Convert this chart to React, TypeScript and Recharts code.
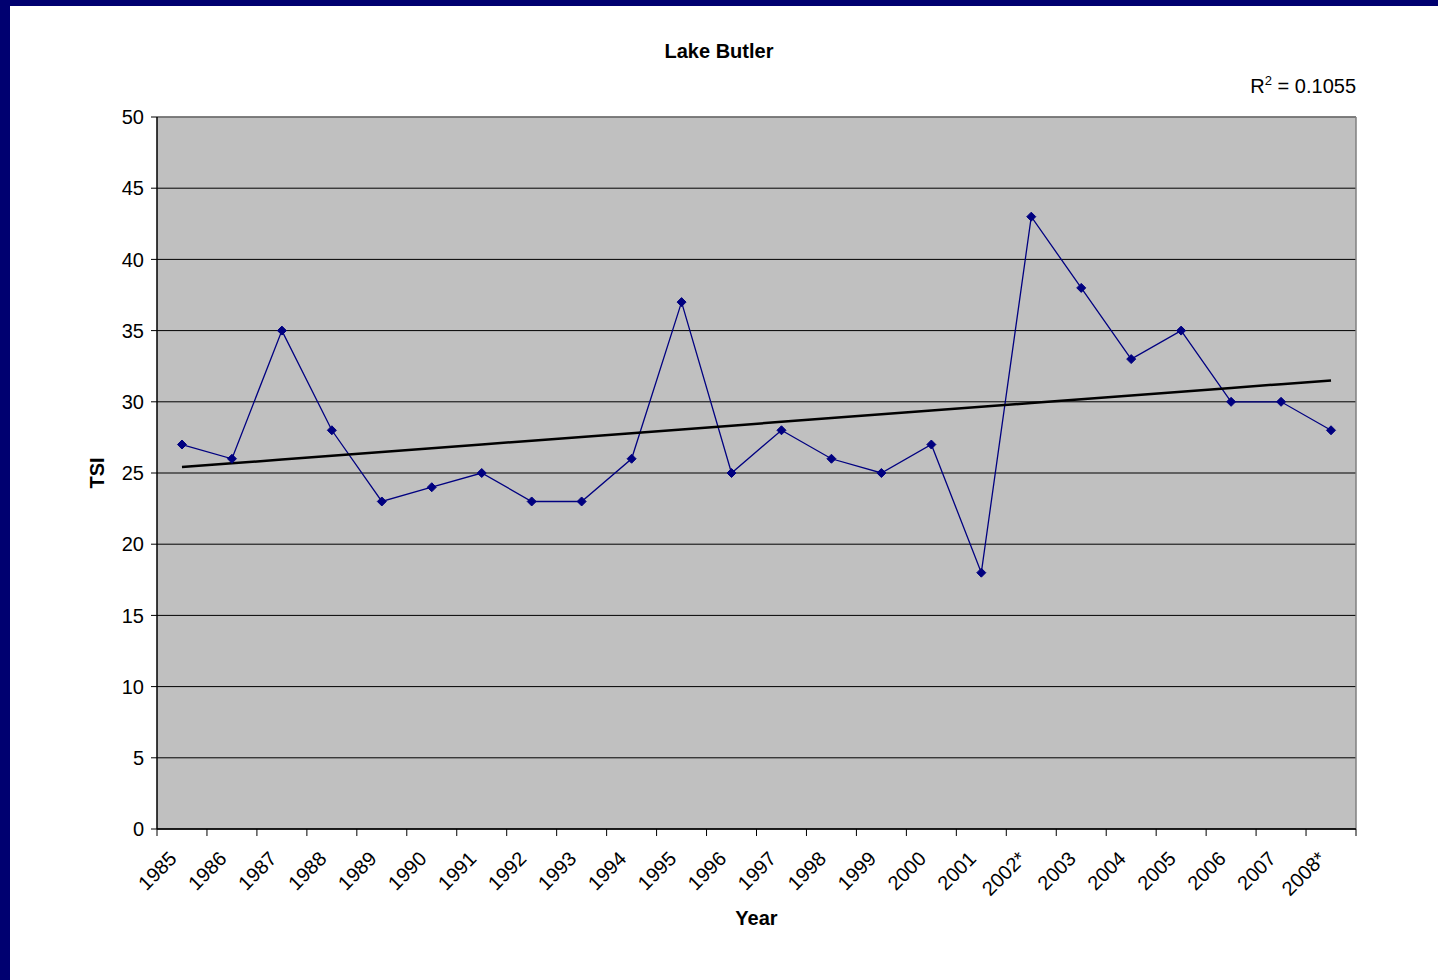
import React from "react";
import {
  ComposedChart,
  Line,
  XAxis,
  YAxis,
  CartesianGrid,
  ReferenceLine,
} from "recharts";

const years = [
  "1985", "1986", "1987", "1988", "1989", "1990", "1991", "1992",
  "1993", "1994", "1995", "1996", "1997", "1998", "1999", "2000",
  "2001", "2002*", "2003", "2004", "2005", "2006", "2007", "2008*",
];
const tsi = [
  27, 26, 35, 28, 23, 24, 25, 23, 23, 26, 37, 25, 28, 26, 25, 27, 18, 43, 38,
  33, 35, 30, 30, 28,
];
const yTicks = [0, 5, 10, 15, 20, 25, 30, 35, 40, 45, 50];
const rSquared = "0.1055";

// least squares trend over the category index (same as the Excel linear trendline)
const n = tsi.length;
const meanX = (n - 1) / 2;
const meanY = tsi.reduce((a, b) => a + b, 0) / n;
let sxy = 0;
let sxx = 0;
tsi.forEach((v, i) => {
  sxy += (i - meanX) * (v - meanY);
  sxx += (i - meanX) * (i - meanX);
});
const slope = sxy / sxx;
const intercept = meanY - slope * meanX;

const data = years.map((year, i) => ({
  pos: i + 0.5,
  year,
  tsi: tsi[i],
  trend: intercept + slope * i,
}));

// boundaries get tick marks, category centres get labels
const xTicks: number[] = [];
for (let i = 0; i <= years.length; i++) {
  xTicks.push(i);
  if (i < years.length) xTicks.push(i + 0.5);
}

const FONT = '"Liberation Sans", Arial, sans-serif';

const XTick = (props: any) => {
  const { x, y, payload } = props;
  const v = payload.value;
  if (Number.isInteger(v)) {
    return <line x1={x} x2={x} y1={y} y2={y + 7} stroke="#000" strokeWidth={1} />;
  }
  return (
    <text
      transform={`translate(${x - 4},${y + 31}) rotate(-45)`}
      textAnchor="end"
      fontSize={20}
      fontFamily={FONT}
      fill="#000"
    >
      {years[Math.floor(v)]}
    </text>
  );
};

const Diamond = (props: any) => {
  const { cx, cy, index } = props;
  if (cx == null || cy == null) return <g key={index} />;
  const r = 4.5;
  return (
    <path
      key={index}
      d={`M${cx},${cy - r}L${cx + r},${cy}L${cx},${cy + r}L${cx - r},${cy}Z`}
      fill="#000080"
      stroke="#000080"
      strokeWidth={1}
    />
  );
};

export default function App() {
  return (
    <div
      style={{
        position: "absolute",
        left: 0,
        top: 0,
        width: 1438,
        height: 980,
        background: "#000070",
        fontFamily: FONT,
        overflow: "hidden",
      }}
    >
      <div
        style={{
          position: "absolute",
          left: 10,
          top: 6,
          width: 1428,
          height: 974,
          background: "#fff",
        }}
      />
      <div style={{ position: "absolute", left: 0, top: 0 }}>
        <ComposedChart
          width={1438}
          height={980}
          data={data}
          margin={{ top: 117, right: 82, bottom: 51, left: 97 }}
        >
          <CartesianGrid vertical={false} stroke="#000" fill="#C0C0C0" />
          <XAxis
            dataKey="pos"
            type="number"
            domain={[0, years.length]}
            ticks={xTicks}
            interval={0}
            tickSize={0}
            tickMargin={0}
            tickLine={false}
            tick={<XTick />}
            height={100}
            axisLine={{ stroke: "#000", strokeWidth: 1.5 }}
          />
          <YAxis
            type="number"
            domain={[0, 50]}
            ticks={yTicks}
            interval={0}
            width={60}
            tickSize={6}
            tickMargin={7}
            tick={{ fontSize: 20, fill: "#000", fontFamily: FONT }}
            tickLine={{ stroke: "#000" }}
            axisLine={{ stroke: "#000", strokeWidth: 1.5 }}
          />
          <ReferenceLine y={50} stroke="#808080" strokeWidth={1.5} />
          <ReferenceLine x={years.length} stroke="#808080" strokeWidth={1.5} />
          <Line
            dataKey="tsi"
            stroke="#000080"
            strokeWidth={1.3}
            dot={Diamond}
            activeDot={false}
            isAnimationActive={false}
          />
          <Line
            dataKey="trend"
            stroke="#000"
            strokeWidth={2.5}
            dot={false}
            activeDot={false}
            isAnimationActive={false}
          />
        </ComposedChart>
      </div>
      <div
        style={{
          position: "absolute",
          left: 0,
          width: 1438,
          top: 40,
          textAlign: "center",
          fontWeight: "bold",
          fontSize: 20,
          color: "#000",
        }}
      >
        Lake Butler
      </div>
      <div
        style={{
          position: "absolute",
          right: 1438 - 1356,
          top: 73,
          fontSize: 20,
          color: "#000",
          whiteSpace: "nowrap",
        }}
      >
        R<sup style={{ fontSize: 13 }}>2</sup> = {rSquared}
      </div>
      <div
        style={{
          position: "absolute",
          left: 157,
          width: 1199,
          top: 907,
          textAlign: "center",
          fontWeight: "bold",
          fontSize: 20,
          color: "#000",
        }}
      >
        Year
      </div>
      <div
        style={{
          position: "absolute",
          left: 97 - 60,
          top: 473 - 12,
          width: 120,
          textAlign: "center",
          transform: "rotate(-90deg)",
          fontWeight: "bold",
          fontSize: 20,
          color: "#000",
          lineHeight: "24px",
        }}
      >
        TSI
      </div>
    </div>
  );
}
